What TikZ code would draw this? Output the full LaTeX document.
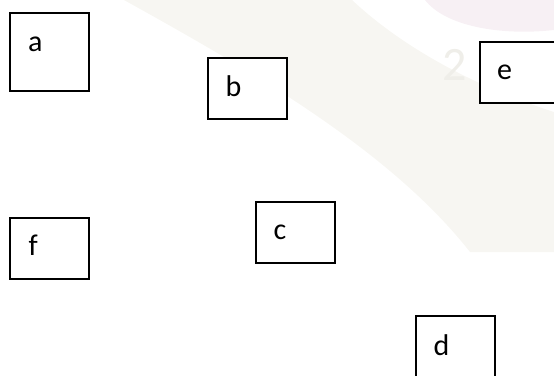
\documentclass[tikz,border=0pt]{standalone}
\usepackage{fontspec}
\setmainfont{Carlito}
\definecolor{wmgrey}{HTML}{F7F6F2}
\definecolor{wmpink}{HTML}{F7F0F4}
\definecolor{wmdigit}{HTML}{EFEEE9}
\tikzset{
    box/.style={draw, fill=white, line width=2pt, anchor=north west,
                minimum width=79pt, minimum height=61pt, inner sep=0pt},
    tallbox/.style={box, minimum height=78.5pt},
    tag/.style={anchor=base west, inner sep=0pt,
                font=\fontsize{30}{34}\selectfont},
    mark digit/.style={text=wmdigit, inner sep=0pt,
                font=\fontsize{48}{52}\selectfont},
}
\begin{document}
\begin{tikzpicture}[x=1pt, y=-1pt]

    \useasboundingbox (0,0) rectangle (554,375);
    % faint watermark behind the boxes
    \fill[wmgrey] (124,0) .. controls (250,70) and (390,150) .. (470,252)
        -- (554,252) -- (554,112) .. controls (470,85) and (400,45) .. (352,0) -- cycle;
    \fill[wmpink] (425,0) .. controls (445,26) and (500,36) .. (554,30) -- (554,0) -- cycle;
    \node[mark digit] (two) at (455,65) {2};

    \node[tallbox] (a) at (9.3,11.5) {};
    \node[box] (b) at (206.8,56.8) {};
    \node[box] (e) at (478.8,40.8) {};
    \node[box] (f) at (9.3,216.8) {};
    \node[box] (c) at (254.8,200.8) {};
    \node[box] (d) at (414.8,315.1) {};

    \node[tag] (la) at ([shift={(18.5,40)}]a.north west) {a};
    \node[tag] (lb) at ([shift={(18.5,40)}]b.north west) {b};
    \node[tag] (le) at ([shift={(18,39)}]e.north west) {e};
    \node[tag] (lf) at ([shift={(19,38.5)}]f.north west) {f};
    \node[tag] (lc) at ([shift={(18.5,39)}]c.north west) {c};
    \node[tag] (ld) at ([shift={(18.5,40)}]d.north west) {d};

\end{tikzpicture}
\end{document}
